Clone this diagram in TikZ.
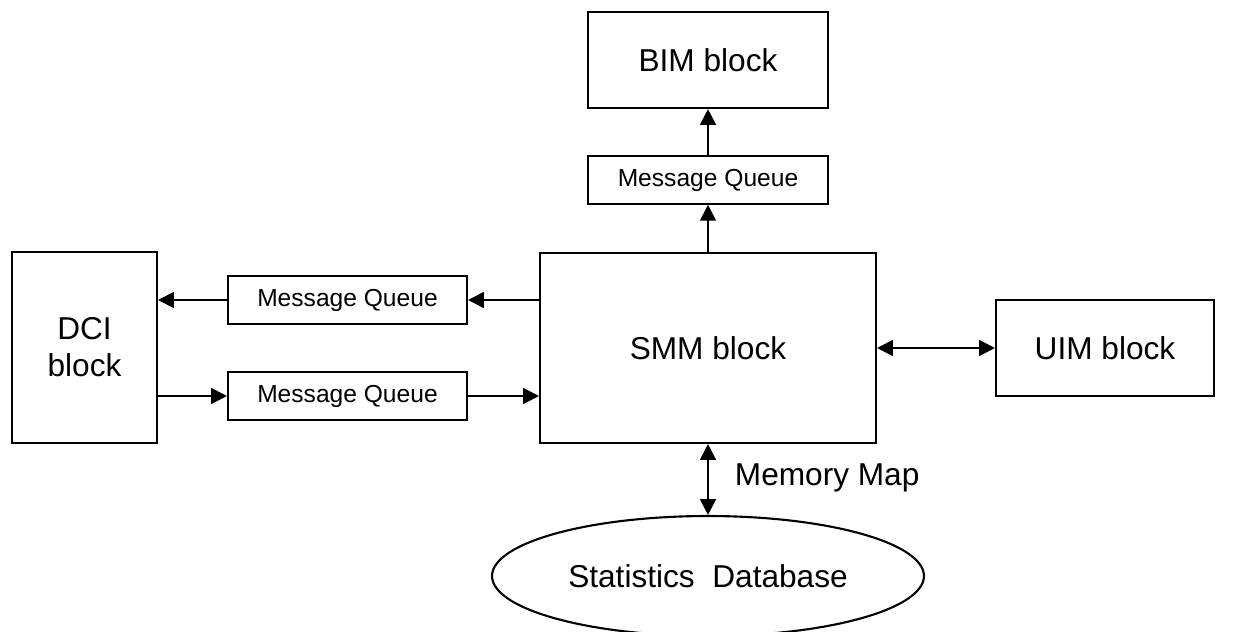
\documentclass[tikz,border=0pt]{standalone}
\usepackage{fontspec}
\setmainfont{Liberation Sans}
\usetikzlibrary{shapes.geometric,arrows.meta}

\begin{document}
\begin{tikzpicture}[x=0.02cm, y=-0.02cm, line width=1.2pt,
    block/.style={draw, inner sep=0pt, align=center, font=\fontsize{18}{21}\selectfont},
    queue/.style={draw, inner sep=0pt, minimum height=0.95cm, font=\fontsize{14}{16}\selectfont},
    flow/.style={-{Triangle[length=9pt,width=9pt]}},
    both/.style={{Triangle[length=9pt,width=9pt]}-{Triangle[length=9pt,width=9pt]}}]
    \useasboundingbox (0,0) rectangle (1238,632);

    % blocks
    \node[block, minimum width=4.8cm, minimum height=1.92cm] (bim) at (708,60) {BIM block};
    \node[queue, minimum width=4.8cm] (mqtop) at (708,180) {Message Queue};
    \node[block, minimum width=6.72cm, minimum height=3.8cm] (smm) at (708,348) {SMM block};
    \node[block, minimum width=4.36cm, minimum height=1.92cm] (uim) at (1105,348) {UIM block};
    \node[block, minimum width=2.9cm, minimum height=3.82cm] (dci) at (84.5,347.5) {DCI\\block};
    \node[queue, minimum width=4.78cm] (mqout) at (347.5,300) {Message Queue};
    \node[queue, minimum width=4.78cm] (mqin) at (347.5,396) {Message Queue};
    \node[draw, ellipse, inner sep=0pt, minimum width=8.64cm, minimum height=2.4cm,
          font=\fontsize{18}{21}\selectfont] (db) at (708,576) {Statistics\ \ Database};

    % connectors
    \draw[flow] (smm.north) -- (mqtop.south);
    \draw[flow] (mqtop.north) -- (bim.south);
    \draw[flow] (mqout.east -| smm.west) -- (mqout.east);
    \draw[flow] (mqout.west) -- (mqout.west -| dci.east);
    \draw[flow] (mqin.west -| dci.east) -- (mqin.west);
    \draw[flow] (mqin.east) -- (mqin.east -| smm.west);
    \draw[both] (smm.east) -- (uim.west);
    \draw[both] (smm.south) -- (db.north);
    \node[font=\fontsize{18}{21}\selectfont, anchor=west] (memmap) at (728,478) {Memory Map};
\end{tikzpicture}
\end{document}
